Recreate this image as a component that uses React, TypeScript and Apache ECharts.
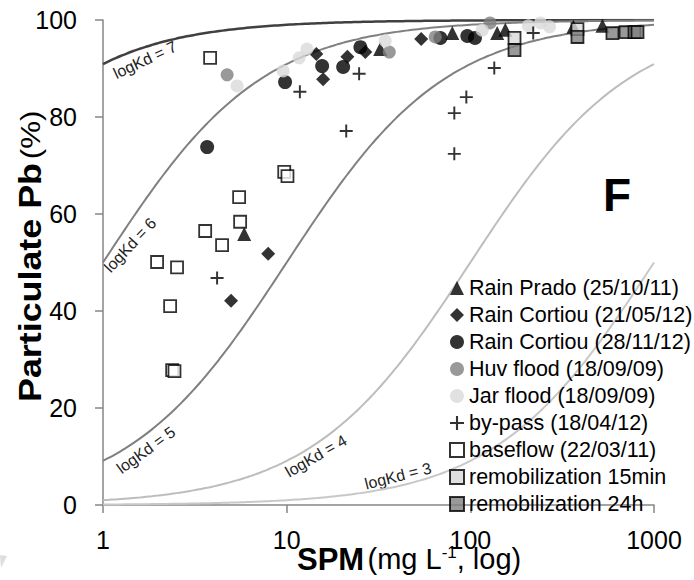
import React, { useEffect, useRef } from 'react';
import * as echarts from 'echarts';

// ---------- data ----------
const xTicks = [1, 10, 100, 1000];
const yTicks = [0, 20, 40, 60, 80, 100];
const logKdValues = [7, 6, 5, 4, 3];
const curveColors = ['#404040', '#808080', '#808080', '#bdbdbd', '#c8c8c8'];

const rainPrado = [[5.87, 55.9], [32.3, 94.0], [79.8, 97.3], [140, 97.3], [155, 98.0], [364, 98.6], [524, 98.8]];
const rainCortiou2105 = [[4.98, 42.1], [7.93, 51.8], [14.5, 93.0], [15.8, 87.8], [21.4, 92.4], [26.8, 93.4], [54, 96.1]];
const rainCortiou2811 = [[3.69, 73.8], [9.8, 87.2], [15.6, 90.5], [20.3, 90.3], [25.2, 94.4], [68.7, 96.3], [96.3, 96.7], [106, 96.3]];
const huvFlood = [[4.74, 88.7], [36.2, 93.4], [64.4, 96.5], [128, 99.4]];
const jarFlood = [[5.37, 86.4], [9.57, 89.5], [11.7, 92.2], [12.9, 94.0], [34.4, 95.7], [116, 97.9], [207, 98.8], [241, 99.4], [270, 98.6]];
const byPass = [[4.18, 46.8], [11.8, 85.2], [21.1, 77.1], [24.8, 88.9], [81.8, 72.4], [81.8, 80.8], [95.1, 84.1], [135, 90.1], [220, 97.3]];
const baseflow = [[1.97, 50.1], [2.32, 41.0], [2.38, 27.8], [2.45, 27.6], [2.53, 49.0], [3.6, 56.5], [3.83, 92.2], [4.45, 53.6], [5.51, 63.5], [5.58, 58.4], [9.7, 68.7], [10.1, 67.8]];
const remob15 = [[174, 96.3], [383, 98.1]];
const remob24 = [[174, 93.8], [383, 96.5], [594, 97.3], [700, 97.5], [783, 97.5], [813, 97.5]];

const FONT = '"Liberation Sans", Arial, sans-serif';
const PLUS = 'path://M5.1,0H6.9V5.1H12V6.9H6.9V12H5.1V6.9H0V5.1H5.1Z';

// theoretical partition curves: %particulate = Kd*SPM/(1+Kd*SPM), SPM in kg/L
function kdCurve(logKd: number) {
  const pts: number[][] = [];
  for (let i = 0; i <= 90; i++) {
    const spm = Math.pow(10, i / 30);
    const k = Math.pow(10, logKd) * spm * 1e-6;
    pts.push([spm, (100 * k) / (1 + k)]);
  }
  return pts;
}

export default function App() {
  const ref = useRef<HTMLDivElement>(null);
  useEffect(() => {
    const chart = echarts.init(ref.current!, null, { renderer: 'svg' });
    const scatter = (name: string, data: number[][], symbol: string, size: number, itemStyle: any) => ({
      name,
      type: 'scatter',
      data,
      symbol,
      symbolSize: size,
      itemStyle,
      z: 3,
    });
    const curveLabels = [
      { t: 'logKd = 7', x: 145, y: 60, a: 25 },
      { t: 'logKd = 6', x: 130, y: 245, a: 47 },
      { t: 'logKd = 5', x: 146, y: 450, a: 36 },
      { t: 'logKd = 4', x: 316, y: 456, a: 30 },
      { t: 'logKd = 3', x: 398, y: 476, a: 14 },
    ];
    const names = [
      'Rain Prado (25/10/11)',
      'Rain Cortiou (21/05/12)',
      'Rain Cortiou (28/11/12)',
      'Huv flood (18/09/09)',
      'Jar flood (18/09/09)',
      'by-pass (18/04/12)',
      'baseflow (22/03/11)',
      'remobilization 15min',
      'remobilization 24h',
    ];
    const option: any = {
      animation: false,
      backgroundColor: '#fff',
      textStyle: { fontFamily: FONT },
      grid: { left: 103, right: 40, top: 20, bottom: 75 },
      xAxis: {
        type: 'log',
        logBase: 10,
        min: xTicks[0],
        max: xTicks[xTicks.length - 1],
        axisLine: { show: true, lineStyle: { color: '#868686', width: 1.5 } },
        axisTick: { show: true, inside: false, length: 8, lineStyle: { color: '#868686', width: 1.5 } },
        minorTick: { show: false },
        splitLine: { show: false },
        axisLabel: {
          fontSize: 25,
          color: '#000',
          margin: 22,
          fontFamily: FONT,
          formatter: (v: number) => String(Math.round(v)),
        },
      },
      yAxis: {
        type: 'value',
        min: yTicks[0],
        max: yTicks[yTicks.length - 1],
        interval: 20,
        axisLine: { show: true, lineStyle: { color: '#868686', width: 1.5 } },
        axisTick: { show: true, inside: false, length: 8, lineStyle: { color: '#868686', width: 1.5 } },
        splitLine: { show: false },
        axisLabel: { fontSize: 25, color: '#000', margin: 26, fontFamily: FONT },
      },
      legend: {
        data: names,
        orient: 'vertical',
        left: 449,
        top: 277,
        padding: 0,
        itemWidth: 14,
        itemHeight: 14,
        itemGap: 5,
        textStyle: { fontSize: 21.5, lineHeight: 21, color: '#000', fontFamily: FONT },
      },
      series: [
        ...logKdValues.map((v, i) => ({
          name: 'logKd ' + v,
          type: 'line',
          data: kdCurve(v),
          showSymbol: false,
          smooth: true,
          silent: true,
          z: 1,
          lineStyle: { color: curveColors[i], width: i === 0 ? 2.5 : 2 },
        })),
        scatter(names[0], rainPrado, 'triangle', 14, { color: '#000' }),
        scatter(names[1], rainCortiou2105, 'diamond', 14, { color: '#000' }),
        scatter(names[2], rainCortiou2811, 'circle', 14, { color: '#000' }),
        scatter(names[3], huvFlood, 'circle', 13, { color: '#808080' }),
        scatter(names[4], jarFlood, 'circle', 13, { color: '#d9d9d9' }),
        scatter(names[5], byPass, PLUS, 13, { color: '#000' }),
        scatter(names[6], baseflow, 'rect', 12, { color: '#fff', borderColor: '#000', borderWidth: 1.8 }),
        scatter(names[7], remob15, 'rect', 12, { color: '#d9d9d9', borderColor: '#000', borderWidth: 1.8 }),
        scatter(names[8], remob24, 'rect', 12, { color: '#808080', borderColor: '#000', borderWidth: 1.8 }),
      ],
      graphic: [
        ...curveLabels.map((c) => ({
          type: 'text',
          x: c.x,
          y: c.y,
          rotation: (c.a * Math.PI) / 180,
          silent: true,
          style: { text: c.t, fontSize: 16, fill: '#222', fontFamily: FONT, align: 'center', verticalAlign: 'middle' },
        })),
        {
          type: 'text',
          x: 617,
          y: 195,
          style: { text: 'F', fontSize: 46, fontWeight: 'bold', fill: '#000', fontFamily: FONT, align: 'center', verticalAlign: 'middle' },
        },
        {
          type: 'text',
          x: 30,
          y: 402,
          rotation: Math.PI / 2,
          scaleX: 1.12,
          style: {
            text: '{b|Particulate Pb} {n|(%)}',
            align: 'left',
            verticalAlign: 'middle',
            fill: '#000',
            rich: {
              b: { fontSize: 32, fontWeight: 'bold', fontFamily: FONT, fill: '#000' },
              n: { fontSize: 28, fontFamily: FONT, fill: '#000' },
            },
          },
        },
        {
          type: 'text',
          x: 297,
          y: 559,
          style: {
            text: '{b|SPM} {n|(mg L}{s|-1}{n|, log)}',
            align: 'left',
            verticalAlign: 'middle',
            fill: '#000',
            rich: {
              b: { fontSize: 31, fontWeight: 'bold', fontFamily: FONT, fill: '#000' },
              n: { fontSize: 29, fontFamily: FONT, fill: '#000' },
              s: { fontSize: 17, fontFamily: FONT, fill: '#000', verticalAlign: 'top' },
            },
          },
        },
        {
          type: 'polygon',
          silent: true,
          shape: { points: [[0, 555], [7, 556], [1, 568]] },
          style: { fill: '#dedede' },
        },
      ],
    };
    chart.setOption(option);
    return () => chart.dispose();
  }, []);
  return <div ref={ref} style={{ position: 'fixed', left: 0, top: 0, width: 694, height: 580 }} />;
}
